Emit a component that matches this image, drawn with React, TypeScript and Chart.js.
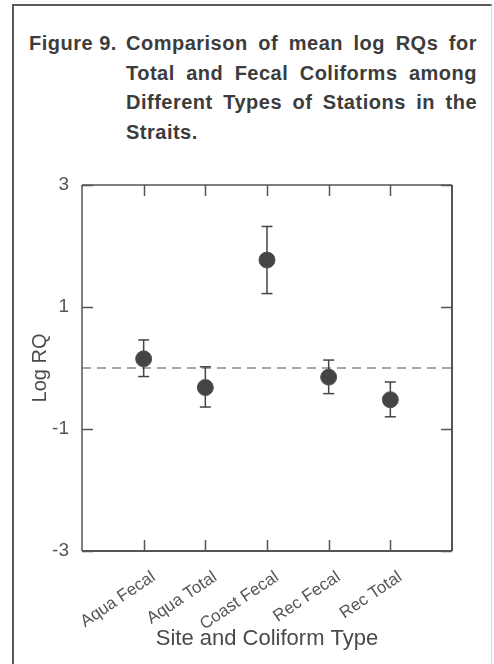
import React, { useEffect, useRef } from 'react';
import { Chart, registerables } from 'chart.js';

Chart.register(...registerables);

// ---------- data ----------
const categories = ['Aqua Fecal', 'Aqua Total', 'Coast Fecal', 'Rec Fecal', 'Rec Total'];
const meanLogRQ = [0.15, -0.32, 1.77, -0.15, -0.52];
const lowerLogRQ = [-0.14, -0.64, 1.22, -0.42, -0.8];
const upperLogRQ = [0.46, 0.02, 2.32, 0.13, -0.23];
const yTickValues = [-3, -1, 1, 3];
const referenceLevel = [0, 0];
const titleLabel = 'Figure 9.';
const titleLines = [
  'Comparison of mean log RQs for',
  'Total and Fecal Coliforms among',
  'Different Types of Stations in the',
  'Straits.',
];
const xAxisTitle = 'Site and Coliform Type';
const yAxisTitle = 'Log RQ';

const FONT = '"Liberation Sans", Arial, Helvetica, sans-serif';

const framePlugin = {
  id: 'frameTicks',
  afterDraw(chart: any) {
    const { ctx, chartArea } = chart;
    const xs = chart.scales.x;
    const ys = chart.scales.y;
    const { left, right, top, bottom } = chartArea;
    ctx.save();
    ctx.strokeStyle = '#555';
    ctx.lineCap = 'butt';
    ctx.lineWidth = 1.5;
    ctx.beginPath();
    ctx.moveTo(left, top);
    ctx.lineTo(right, top);
    ctx.moveTo(left, top);
    ctx.lineTo(left, bottom);
    ctx.stroke();
    ctx.lineWidth = 2;
    ctx.beginPath();
    ctx.moveTo(left, bottom);
    ctx.lineTo(right, bottom);
    ctx.moveTo(right, top);
    ctx.lineTo(right, bottom);
    ctx.stroke();
    const tl = 11;
    ctx.lineWidth = 1.5;
    ctx.beginPath();
    categories.forEach((_, i) => {
      const px = Math.round(xs.getPixelForValue(i + 1)) + 0.5;
      ctx.moveTo(px, top);
      ctx.lineTo(px, top + tl);
      ctx.moveTo(px, bottom);
      ctx.lineTo(px, bottom - tl);
    });
    yTickValues.forEach((v) => {
      const py = Math.round(ys.getPixelForValue(v)) + 0.5;
      ctx.moveTo(left, py);
      ctx.lineTo(left + tl, py);
      ctx.moveTo(right, py);
      ctx.lineTo(right - tl, py);
    });
    ctx.stroke();
    ctx.restore();
  },
};

function ChartCanvas() {
  const ref = useRef<HTMLCanvasElement>(null);
  useEffect(() => {
    const canvas = ref.current;
    if (!canvas) return;
    const pointData = meanLogRQ.map((m, i) => ({ x: i + 1, y: m }));
    const errorSets = categories.map((c, i) => ({
      label: c + ' range',
      data: [
        { x: i + 1, y: lowerLogRQ[i] },
        { x: i + 1, y: upperLogRQ[i] },
      ],
      showLine: true,
      borderColor: '#444',
      borderWidth: 1.5,
      pointStyle: 'line',
      pointRadius: 5.5,
      pointBorderWidth: 1.5,
      pointBorderColor: '#444',
      pointBackgroundColor: '#444',
      order: 2,
    }));
    const chart = new Chart(canvas, {
      type: 'scatter',
      data: {
        datasets: [
          {
            label: 'zero',
            data: [
              { x: 0, y: referenceLevel[0] },
              { x: 6, y: referenceLevel[1] },
            ],
            showLine: true,
            borderColor: '#8a8a8a',
            borderWidth: 1.5,
            borderDash: [9, 6],
            pointRadius: 0,
            order: 3,
          },
          ...errorSets,
          {
            label: 'Mean log RQ',
            data: pointData,
            pointRadius: 8,
            pointBackgroundColor: '#444',
            pointBorderColor: '#555',
            pointBorderWidth: 1,
            order: 1,
          },
        ],
      } as any,
      options: {
        animation: false,
        responsive: false,
        layout: { padding: { top: 35, left: 0, right: 42, bottom: 0 } },
        plugins: { legend: { display: false }, tooltip: { enabled: false } },
        scales: {
          x: {
            type: 'linear',
            min: 0,
            max: 6,
            grid: { display: false },
            border: { display: false },
            afterBuildTicks: (s: any) => {
              s.ticks = categories.map((_, i) => ({ value: i + 1 }));
            },
            ticks: {
              autoSkip: false,
              minRotation: 34,
              maxRotation: 34,
              padding: 8,
              labelOffset: 10,
              color: '#555',
              font: { family: FONT, size: 17 },
              callback: (v: any) => categories[Math.round(Number(v)) - 1] ?? '',
            },
            title: {
              display: true,
              text: xAxisTitle,
              color: '#4a4a4a',
              font: { family: FONT, size: 22 },
              padding: { top: 0, bottom: 12 },
            },
            afterFit: (s: any) => {
              s.height = 113;
              s.paddingLeft = 0;
              s.paddingRight = 0;
            },
          },
          y: {
            type: 'linear',
            min: -3,
            max: 3,
            grid: { display: false },
            border: { display: false },
            afterBuildTicks: (s: any) => {
              s.ticks = yTickValues.map((v) => ({ value: v }));
            },
            ticks: {
              padding: 5,
              color: '#555',
              font: { family: FONT, size: 19 },
              callback: (v: any) => String(v),
            },
            title: {
              display: true,
              text: yAxisTitle,
              color: '#4a4a4a',
              font: { family: FONT, size: 20 },
              padding: { top: 28, bottom: 0 },
            },
            afterFit: (s: any) => {
              s.width = 82;
              s.paddingTop = 0;
              s.paddingBottom = 0;
            },
          },
        },
      } as any,
      plugins: [framePlugin],
    });
    return () => chart.destroy();
  }, []);
  return (
    <canvas
      ref={ref}
      width={494}
      height={514}
      style={{ position: 'absolute', left: 0, top: 150, width: 494, height: 514, display: 'block' }}
    />
  );
}

export default function App() {
  const lineStyle: React.CSSProperties = {
    position: 'absolute',
    left: 126,
    width: 351,
    height: 30,
    lineHeight: '30px',
    whiteSpace: 'nowrap',
    textAlign: 'justify',
    textAlignLast: 'justify' as any,
  };
  return (
    <div
      style={{
        position: 'fixed',
        left: 0,
        top: 0,
        width: 494,
        height: 664,
        overflow: 'hidden',
        background: '#fff',
        fontFamily: FONT,
      }}
    >
      <div
        style={{
          position: 'absolute',
          left: 12,
          top: 4,
          width: 477,
          height: 700,
          borderLeft: '2px solid #5a5a5a',
          borderTop: '2px solid #5a5a5a',
          borderRight: '1px solid #d8d8d8',
        }}
      />
      <div
        style={{
          position: 'absolute',
          left: 0,
          top: 0,
          width: 494,
          height: 150,
          color: '#3c3c3c',
          fontWeight: 'bold',
          fontSize: 20,
          letterSpacing: '0.5px',
        }}
      >
        <div style={{ position: 'absolute', left: 29, top: 28, height: 30, lineHeight: '30px', whiteSpace: 'nowrap' }}>
          {titleLabel}
        </div>
        {titleLines.map((t, i) => (
          <div
            key={i}
            style={{
              ...lineStyle,
              top: 28 + i * 29.5,
              textAlignLast: (i === titleLines.length - 1 ? 'left' : 'justify') as any,
              whiteSpace: i === titleLines.length - 1 ? 'nowrap' : 'normal',
            }}
          >
            {t}
          </div>
        ))}
      </div>
      <ChartCanvas />
    </div>
  );
}
